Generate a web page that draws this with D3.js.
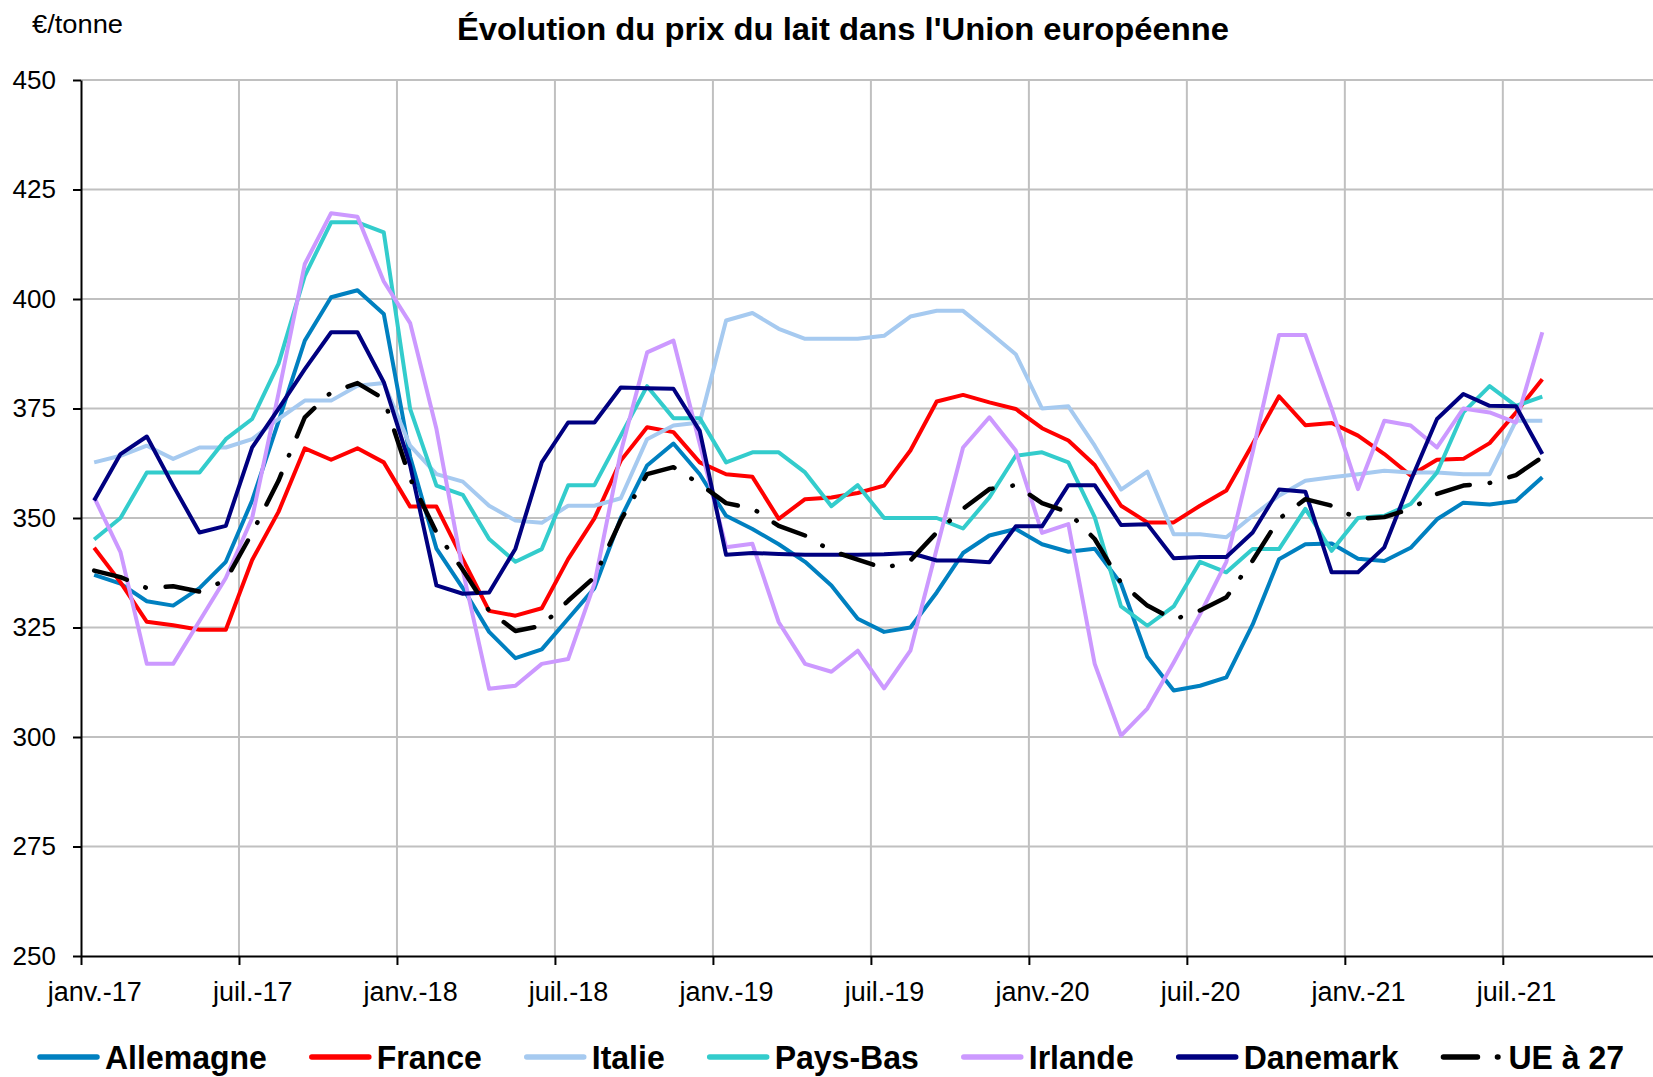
<!DOCTYPE html>
<html>
<head>
<meta charset="utf-8">
<script src="https://cdn.jsdelivr.net/npm/d3@7"></script>
<style>
  body { margin: 0; background: #fff; }
  svg { display: block; font-family: "Liberation Sans", Arial, sans-serif; }
</style>
</head>
<body>
<svg id="chart" width="1653" height="1077"></svg>
<script>
// one category per month, janv.-17 .. déc.-21 (data stops at août-21)
const nMonths = 60;
const tickLabels = ['janv.-17', 'juil.-17', 'janv.-18', 'juil.-18', 'janv.-19',
  'juil.-19', 'janv.-20', 'juil.-20', 'janv.-21', 'juil.-21'];
const yTicks = [250, 275, 300, 325, 350, 375, 400, 425, 450];

const allemagne = [337, 335, 331, 330, 334, 340, 354, 372, 390.5, 400.4, 402, 396.6,
  364, 343, 334, 324, 318, 320, 327, 334, 350, 362, 367, 360,
  350.5, 347.5, 344, 340, 334.6, 327, 324, 325, 333, 342, 346, 347.5,
  344, 342.3, 343, 335, 318.3, 310.6, 311.7, 313.6, 325.7, 340.6, 344, 344.2,
  340.7, 340.2, 343.2, 349.7, 353.5, 353.1, 353.9, 359.3];
const france = [343.2, 335.3, 326.3, 325.5, 324.5, 324.5, 340.4, 351.4, 365.9, 363.3, 365.9, 362.7,
  352.6, 352.6, 340.6, 328.8, 327.7, 329.4, 340.6, 349.9, 363.1, 370.7, 369.6, 362.7,
  360, 359.4, 349.8, 354.3, 354.7, 355.7, 357.4, 365.4, 376.6, 378.1, 376.4, 374.9,
  370.5, 367.7, 362.1, 352.8, 349, 349, 352.8, 356.3, 366.9, 377.8, 371.2, 371.7,
  368.8, 364.6, 359.7, 363.3, 363.5, 367.1, 374.1, 381.7];
const italie = [362.7, 364.2, 366.5, 363.5, 366.1, 366.1, 368, 372.6, 376.8, 376.8, 380.2, 380.8,
  366.5, 360, 358.3, 352.8, 349.4, 348.9, 352.8, 352.8, 354.5, 368, 371.1, 371.8,
  395.1, 396.8, 393.2, 390.9, 390.9, 390.9, 391.6, 396, 397.3, 397.3, 392.4, 387.4,
  375, 375.5, 366.5, 356.5, 360.6, 346.3, 346.3, 345.6, 350.5, 355.1, 358.5, 359.3,
  360, 360.8, 360.4, 360.4, 360, 360, 372.2, 372.2];
const paysBas = [345.1, 350, 360.4, 360.4, 360.4, 368, 372.6, 385.2, 405.3, 417.5, 417.5, 415.2,
  374.9, 357.4, 355.3, 345.2, 340, 342.9, 357.5, 357.5, 368.8, 380.1, 372.8, 372.8,
  362.7, 365, 365, 360.4, 352.7, 357.5, 350, 350, 350, 347.6, 354.7, 364.2,
  365, 362.7, 350.2, 329.8, 325.4, 329.8, 340, 337.6, 342.9, 342.9, 352.1, 342.5,
  350, 350.5, 353.2, 360.4, 374.1, 380.1, 375.6, 377.7];
const irlande = [354.7, 342.2, 316.7, 316.7, 326.5, 336.3, 350, 378.4, 408, 419.6, 418.8, 404,
  394.5, 370.3, 338, 311, 311.7, 316.7, 317.8, 335, 365, 387.8, 390.5, 366.9,
  343.3, 344.1, 326.2, 316.7, 314.9, 319.7, 311.1, 319.7, 343, 366.1, 373, 365.4,
  346.6, 348.6, 316.7, 300.3, 306.5, 317, 328, 340, 365, 391.8, 391.8, 374.9,
  356.6, 372.2, 371.1, 366.1, 375, 374.1, 371.8, 392.4];
const danemark = [354, 364.6, 368.6, 357.4, 346.7, 348.2, 366.1, 374.9, 384, 392.4, 392.4, 381,
  362, 334.6, 332.7, 333, 343, 362.7, 371.8, 371.8, 379.8, 379.6, 379.5, 369.9,
  341.6, 342, 341.8, 341.6, 341.6, 341.6, 341.7, 342, 340.3, 340.3, 339.9, 348.1,
  348.1, 357.5, 357.5, 348.4, 348.6, 340.8, 341.1, 341.1, 346.7, 356.5, 356, 337.6,
  337.6, 343.3, 358.5, 372.6, 378.3, 375.6, 375.5, 364.6];
const ue27 = [338, 336.5, 334, 334.4, 333.2, 335.8, 346.6, 358.5, 373, 378.7, 380.8, 377.2,
  359, 346.7, 338.2, 328.8, 324.2, 325.4, 331.1, 336.5, 349.5, 360, 361.6, 357.8,
  353.4, 352.2, 348.2, 346, 342.5, 340.5, 338.5, 340.3, 346.7, 352.1, 356.6, 357.5,
  353.4, 351.3, 345.2, 335.2, 330, 326.8, 328.9, 331.9, 340.3, 349.8, 354.3, 352.8,
  349.8, 350.2, 352.1, 355.5, 357.4, 358, 359.8, 363.9];

const series = [
  { name: 'Allemagne', values: allemagne, color: '#0080c0' },
  { name: 'France', values: france, color: '#ff0000' },
  { name: 'Italie', values: italie, color: '#a6caf0' },
  { name: 'Pays-Bas', values: paysBas, color: '#33cccc' },
  { name: 'Irlande', values: irlande, color: '#cc99ff' },
  { name: 'Danemark', values: danemark, color: '#000080' },
  { name: 'UE à 27', values: ue27, color: '#000000', dash: '34 20 0.5 20' }
];

const svg = d3.select('#chart');
const plotLeft = 81, plotTop = 80, plotBottom = 956, step = 26.33;

const x = d3.scaleLinear().domain([0, nMonths]).range([plotLeft, plotLeft + step * nMonths]);
const y = d3.scaleLinear().domain([250, 450]).range([plotBottom, plotTop]);

// grid
svg.append('g')
  .selectAll('line')
  .data(yTicks.slice(1))
  .enter().append('line')
  .attr('x1', x(0)).attr('x2', x(nMonths))
  .attr('y1', d => y(d)).attr('y2', d => y(d))
  .attr('stroke', '#c0c0c0').attr('stroke-width', 2);

svg.append('g')
  .selectAll('line')
  .data(d3.range(6, nMonths + 1, 6))
  .enter().append('line')
  .attr('x1', d => x(d)).attr('x2', d => x(d))
  .attr('y1', y(250)).attr('y2', y(450))
  .attr('stroke', '#c0c0c0').attr('stroke-width', 2);

// axes
const yAxis = svg.append('g')
  .attr('transform', `translate(${plotLeft},0)`)
  .call(d3.axisLeft(y).tickValues(yTicks).tickSize(8).tickSizeOuter(0).tickPadding(17));

const xAxis = svg.append('g')
  .attr('transform', `translate(0,${plotBottom})`)
  .call(d3.axisBottom(x).tickValues(d3.range(0, nMonths + 1, 6)).tickSize(9).tickSizeOuter(0).tickFormat(''));

const xLabels = svg.append('g')
  .attr('transform', `translate(0,${plotBottom})`)
  .call(d3.axisBottom(x)
    .tickValues(tickLabels.map((t, k) => k * 6 + 0.5))
    .tickSize(0).tickPadding(26)
    .tickFormat((d, k) => tickLabels[k]));
xLabels.select('.domain').remove();

[yAxis, xAxis].forEach(g => {
  g.selectAll('path, line').attr('stroke', '#000').attr('stroke-width', 2);
});
yAxis.selectAll('text').attr('font-size', 26).attr('fill', '#000')
  .attr('font-family', '"Liberation Sans", Arial, sans-serif');
xLabels.selectAll('text').attr('font-size', 27).attr('fill', '#000')
  .attr('font-family', '"Liberation Sans", Arial, sans-serif');

// lines
const line = d3.line()
  .x((d, i) => x(i + 0.5))
  .y(d => y(d));

svg.append('g')
  .selectAll('path')
  .data(series)
  .enter().append('path')
  .attr('d', d => line(d.values))
  .attr('fill', 'none')
  .attr('stroke', d => d.color)
  .attr('stroke-width', d => d.dash ? 4.5 : 4)
  .attr('stroke-linejoin', 'round')
  .attr('stroke-linecap', d => d.dash ? 'round' : 'butt')
  .attr('stroke-dasharray', d => d.dash || null);

// titles
svg.append('text')
  .attr('x', 457).attr('y', 40)
  .attr('font-size', 32).attr('font-weight', 'bold')
  .attr('textLength', 772).attr('lengthAdjust', 'spacingAndGlyphs')
  .text("Évolution du prix du lait dans l'Union européenne");

svg.append('text')
  .attr('x', 32).attr('y', 33)
  .attr('font-size', 25)
  .attr('textLength', 91).attr('lengthAdjust', 'spacingAndGlyphs')
  .text('€/tonne');

// legend, text a bit taller than wide like the original
const legend = svg.append('g');
let lx = 40;
const ly = 1057;
series.forEach(s => {
  legend.append('line')
    .attr('x1', lx).attr('x2', lx + 57)
    .attr('y1', ly).attr('y2', ly)
    .attr('stroke', s.color).attr('stroke-width', 5.5)
    .attr('stroke-linecap', 'round')
    .attr('stroke-dasharray', s.dash || null);
  const t = legend.append('text')
    .attr('x', lx + 65).attr('y', ly + 12)
    .attr('font-size', 32).attr('font-weight', 'bold')
    .text(s.name);
  const w = t.node().getComputedTextLength();
  t.attr('font-size', 34).attr('textLength', w).attr('lengthAdjust', 'spacingAndGlyphs');
  lx += 65 + w + 45;
});
</script>
</body>
</html>
